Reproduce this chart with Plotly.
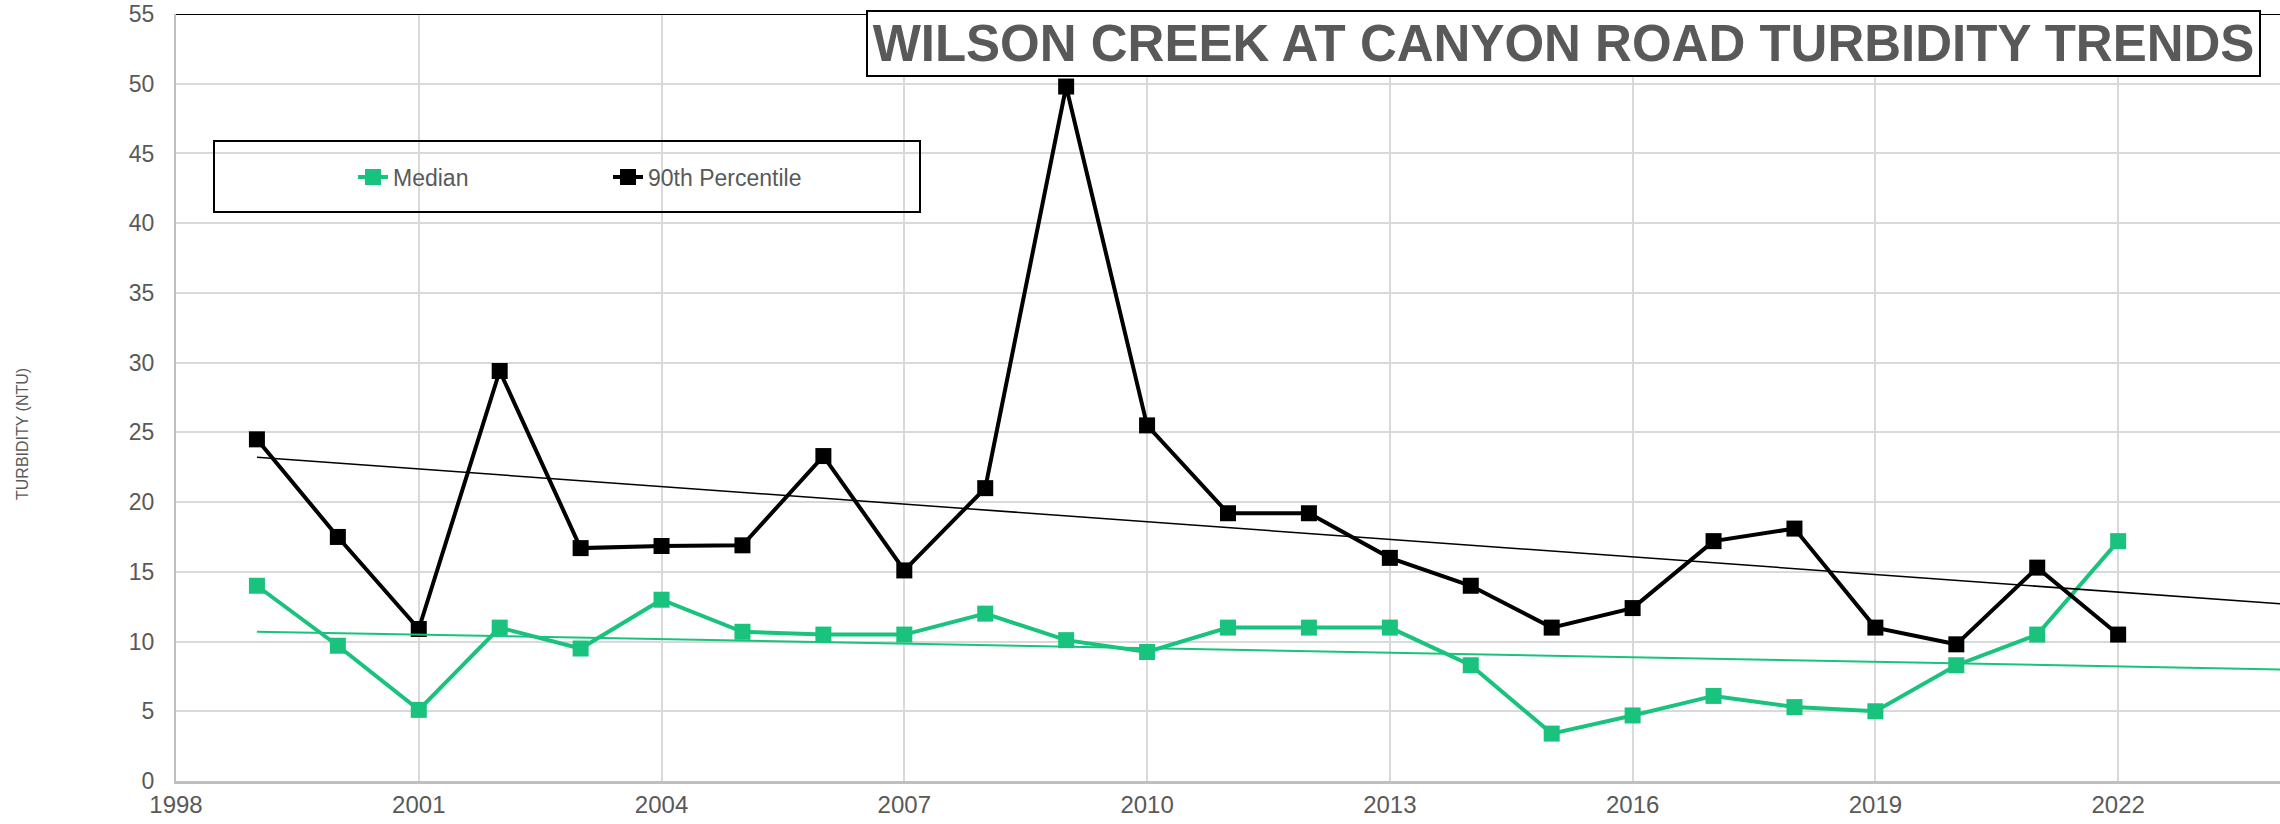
import numpy as np
import plotly.graph_objects as go

years = list(range(1999, 2023))
median = [14.0, 9.7, 5.1, 11.0, 9.5, 13.0, 10.7, 10.5, 10.5, 12.0, 10.1, 9.25,
          11.0, 11.0, 11.0, 8.3, 3.4, 4.7, 6.1, 5.3, 5.0, 8.3, 10.5, 17.2]
p90 = [24.5, 17.5, 10.9, 29.4, 16.7, 16.85, 16.9, 23.3, 15.1, 21.0, 49.8, 25.5,
       19.2, 19.2, 16.0, 14.0, 11.0, 12.4, 17.2, 18.1, 11.0, 9.8, 15.3, 10.5]
x_ticks = list(range(1998, 2023, 3))
trend_span = [1999, 2024]

GREEN = "#19C37D"
GRAY_TXT = "#595959"

def trend(vals):
    k, b = np.polyfit(years, vals, 1)
    return [k * t + b for t in trend_span]

fig = go.Figure()
fig.add_trace(go.Scatter(x=years, y=median, name="Median", mode="lines+markers",
                         line=dict(color=GREEN, width=4),
                         marker=dict(symbol="square", size=16, color=GREEN)))
fig.add_trace(go.Scatter(x=years, y=p90, name="90th Percentile", mode="lines+markers",
                         line=dict(color="black", width=4),
                         marker=dict(symbol="square", size=16, color="black")))
fig.add_trace(go.Scatter(x=trend_span, y=trend(median), mode="lines", showlegend=False,
                         line=dict(color=GREEN, width=2), hoverinfo="skip"))
fig.add_trace(go.Scatter(x=trend_span, y=trend(p90), mode="lines", showlegend=False,
                         line=dict(color="black", width=1.5), hoverinfo="skip"))

W, H = 2280, 824
PL, PR, PT, PB = 176, 2280, 14, 781  # plot area in page pixels
L, R, T, B = PL, W - PR, PT, H - PB
pw, ph = PR - PL, PB - PT

def px_x(p):
    return (p - PL) / pw

def px_y(p):
    return (PB - p) / ph

fig.update_layout(
    width=W, height=H,
    margin=dict(l=L, r=R, t=T, b=B, autoexpand=False),
    paper_bgcolor="white", plot_bgcolor="white",
    xaxis=dict(range=[1998, 2024], tickvals=x_ticks, showgrid=True,
               gridcolor="#d9d9d9", gridwidth=2, showline=True,
               linecolor="#bfbfbf", linewidth=3, zeroline=False, ticks="",
               tickfont=dict(family="Liberation Sans, Arial", size=24, color=GRAY_TXT),
               ticklabelstandoff=0, ticklabeloverflow="allow"),
    yaxis=dict(range=[0, 55], dtick=5, showgrid=True, gridcolor="#d9d9d9",
               gridwidth=2, showline=True, linecolor="#bfbfbf", linewidth=2,
               zeroline=False, ticks="",
               tickfont=dict(family="Liberation Sans, Arial", size=23, color=GRAY_TXT),
               ticklabelstandoff=15, ticklabeloverflow="allow"),
    legend=dict(orientation="h", x=px_x(353), y=px_y(177), xanchor="left",
                yanchor="middle", bgcolor="rgba(0,0,0,0)", borderwidth=0,
                entrywidth=210, entrywidthmode="pixels",
                font=dict(family="Liberation Sans, Arial", size=23, color=GRAY_TXT)),
    showlegend=True,
)

fig.add_shape(type="rect", xref="paper", yref="paper",
              x0=px_x(214), x1=px_x(920), y0=px_y(212), y1=px_y(141),
              line=dict(color="black", width=2), fillcolor="rgba(0,0,0,0)", layer="above")
fig.add_shape(type="line", xref="paper", yref="y", x0=0, x1=1, y0=55, y1=55,
              line=dict(color="black", width=2), layer="above")

fig.add_annotation(text="<b>WILSON CREEK AT CANYON ROAD TURBIDITY TRENDS</b>",
                   xref="paper", yref="paper", x=px_x(866), y=px_y(10),
                   xanchor="left", yanchor="top", showarrow=False,
                   width=1391, height=63, align="center", valign="middle",
                   bgcolor="white", bordercolor="black", borderwidth=2, borderpad=0,
                   font=dict(family="Liberation Sans, Arial", size=51, color=GRAY_TXT))
fig.add_annotation(text="TURBIDITY (NTU)", xref="paper", yref="paper",
                   x=px_x(22), y=px_y(434), textangle=-90, showarrow=False,
                   xanchor="center", yanchor="middle",
                   font=dict(family="Liberation Sans, Arial", size=16, color=GRAY_TXT))

fig.write_html("out.html", config={"displayModeBar": False},
               post_script="document.body.style.margin='0px';")
